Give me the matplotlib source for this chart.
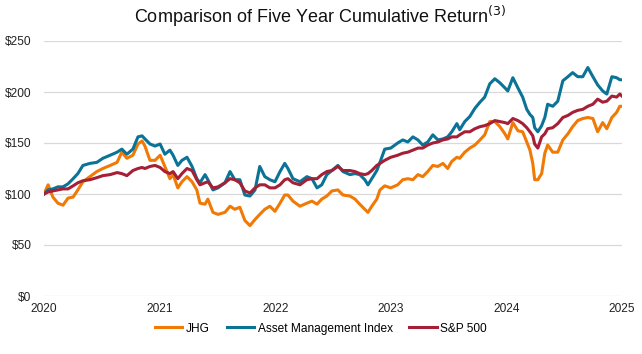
import numpy as np
import pandas as pd
import matplotlib
matplotlib.use("Agg")
import matplotlib.pyplot as plt
import matplotlib.dates as mdates
from matplotlib.ticker import FuncFormatter

plt.rcParams['font.family'] = ['Liberation Sans', 'DejaVu Sans']

# ── data ($100 invested at start) ────────────────────────────────────────────
dates = [
    "2020-01-01", "2020-01-14", "2020-01-29", "2020-02-14", "2020-03-01", "2020-03-17",
    "2020-04-02", "2020-04-17", "2020-05-03", "2020-05-25", "2020-06-16", "2020-07-05",
    "2020-07-28", "2020-08-19", "2020-09-03", "2020-09-19", "2020-10-08", "2020-10-24",
    "2020-11-06", "2020-11-15", "2020-12-01", "2020-12-17",
    "2021-01-02", "2021-01-17", "2021-02-02", "2021-02-12", "2021-02-27", "2021-03-12",
    "2021-03-28", "2021-04-13", "2021-04-28", "2021-05-08", "2021-05-24", "2021-06-02",
    "2021-06-18", "2021-07-04", "2021-07-26", "2021-08-11", "2021-08-26", "2021-09-11",
    "2021-09-27", "2021-10-13", "2021-10-29", "2021-11-13", "2021-11-29", "2021-12-15",
    "2021-12-31",
    "2022-01-16", "2022-01-31", "2022-02-10", "2022-02-26", "2022-03-20", "2022-04-11",
    "2022-04-27", "2022-05-13", "2022-05-28", "2022-06-13", "2022-06-29", "2022-07-18",
    "2022-08-03", "2022-08-25", "2022-09-10", "2022-09-25", "2022-10-11", "2022-10-21",
    "2022-11-02", "2022-11-18", "2022-11-28", "2022-12-13",
    "2023-01-01", "2023-01-23", "2023-02-08", "2023-02-24", "2023-03-12", "2023-03-28",
    "2023-04-12", "2023-04-28", "2023-05-14", "2023-05-30", "2023-06-15", "2023-06-30",
    "2023-07-13", "2023-07-29", "2023-08-07", "2023-08-23", "2023-09-08", "2023-09-24",
    "2023-10-10", "2023-10-25", "2023-11-10", "2023-11-26", "2023-12-12", "2023-12-28",
    "2024-01-06", "2024-01-22", "2024-02-07", "2024-02-22", "2024-03-06", "2024-03-16",
    "2024-03-25", "2024-03-31", "2024-04-10", "2024-04-22", "2024-05-02", "2024-05-11",
    "2024-05-27", "2024-06-12", "2024-06-28", "2024-07-14", "2024-07-29", "2024-08-14",
    "2024-08-30", "2024-09-15", "2024-10-01", "2024-10-16", "2024-11-01", "2024-11-14",
    "2024-11-30", "2024-12-15", "2024-12-25", "2025-01-01",
]

jhg = [
    100, 109, 97, 91, 89, 96, 97, 104, 112, 117, 122, 125, 128, 131, 141, 135, 138, 149,
    152, 147, 133, 133,
    138, 127, 115, 119, 106, 112, 117, 112, 104, 91, 90, 95, 82, 80, 82, 88, 85, 87,
    74, 69, 75, 80, 85, 88, 83,
    91, 99, 99, 93, 88, 91, 93, 90, 95, 98, 103, 104, 99, 98, 95, 90, 85, 82, 88, 95,
    104, 108,
    106, 109, 114, 115, 114, 119, 117, 122, 128, 127, 130, 125, 132, 136, 135, 141, 145,
    148, 153, 158, 171, 171, 166, 159,
    154, 170, 162, 161, 151, 143, 130, 114, 114, 120, 140, 148, 141, 141, 153, 159, 166,
    172, 174, 175, 174, 161, 170, 164, 175, 180, 186, 186,
]

asset_mgmt = [
    100, 104, 105, 107, 107, 110, 115, 120, 128, 130, 131, 135, 138, 141, 144, 139, 144,
    156, 157, 154, 149, 147,
    149, 139, 143, 138, 128, 133, 136, 127, 115, 111, 119, 114, 104, 106, 111, 122, 114,
    114, 99, 98, 104, 127, 117, 114, 112,
    122, 130, 125, 115, 112, 117, 115, 106, 109, 119, 123, 128, 122, 119, 120, 119, 114,
    109, 115, 123, 131, 144,
    145, 150, 153, 151, 156, 153, 148, 151, 158, 153, 154, 156, 161, 169, 163, 171, 176,
    184, 190, 195, 208, 213, 209, 204,
    201, 214, 204, 195, 183, 178, 175, 165, 161, 167, 175, 188, 186, 191, 211, 215, 219,
    215, 215, 224, 215, 207, 201, 198, 215, 214, 212, 212,
]

sp500 = [
    100, 102, 103, 104, 105, 105, 108, 111, 113, 114, 116, 118, 119, 121, 120, 118, 123,
    125, 126, 125, 127, 128,
    126, 122, 120, 122, 115, 120, 125, 123, 114, 109, 111, 112, 106, 107, 111, 115, 114,
    111, 103, 101, 106, 109, 109, 106, 106,
    109, 114, 115, 111, 109, 114, 115, 115, 119, 122, 123, 127, 123, 123, 122, 120, 119,
    120, 123, 128, 130, 133,
    136, 138, 140, 141, 143, 145, 145, 148, 150, 151, 153, 154, 156, 156, 158, 161, 161,
    164, 166, 167, 169, 172, 171, 170,
    169, 174, 172, 169, 165, 161, 157, 149, 145, 156, 159, 164, 165, 169, 175, 177, 180,
    182, 183, 186, 188, 193, 190, 191, 196, 195, 198, 196,
]

series_names = ["JHG", "Asset Management Index", "S&P 500"]
year_ticks = ["2020", "2021", "2022", "2023", "2024", "2025"]
y_ticks = [0, 50, 100, 150, 200, 250]


def draw_chart(save_path):
    x = pd.to_datetime(dates)
    colors = ["#F07A05", "#0A7396", "#A51F36"]

    fig = plt.figure(figsize=(6.42, 3.54), dpi=100)
    ax = fig.add_axes([44 / 642, 1 - 296 / 354, 578 / 642, 255 / 354])

    for values, name, color in zip([jhg, asset_mgmt, sp500], series_names, colors):
        ax.plot(x, values, color=color, linewidth=2.2, label=name,
                solid_joinstyle='round')

    ax.set_xlim(pd.Timestamp(year_ticks[0]), pd.Timestamp(year_ticks[-1]))
    ax.set_xticks([pd.Timestamp(y) for y in year_ticks])
    ax.xaxis.set_major_formatter(mdates.DateFormatter("%Y"))
    ax.set_ylim(y_ticks[0], y_ticks[-1])
    ax.set_yticks(y_ticks)
    ax.yaxis.set_major_formatter(FuncFormatter(lambda v, _: f"${v:.0f}"))

    ax.grid(True, axis='y', color="#D9D9D9", linewidth=0.9)
    ax.set_axisbelow(True)
    for side in ax.spines.values():
        side.set_visible(False)
    ax.tick_params(length=0, labelsize=8.6, colors="#222222")
    ax.tick_params(axis='y', pad=9)
    ax.tick_params(axis='x', pad=5)

    fig.text(0.498, 0.955, "Comparison of Five Year Cumulative Return$^{(3)}$",
             ha='center', va='center', fontsize=13, color="#111111")

    fig.legend(loc='center', bbox_to_anchor=(0.5, 0.072), ncol=3, frameon=False,
               fontsize=8.6, handlelength=2.3, handletextpad=0.3,
               columnspacing=1.4)

    fig.savefig(save_path, dpi=100)
    plt.close(fig)


def main():
    draw_chart("out.png")


if __name__ == "__main__":
    main()
